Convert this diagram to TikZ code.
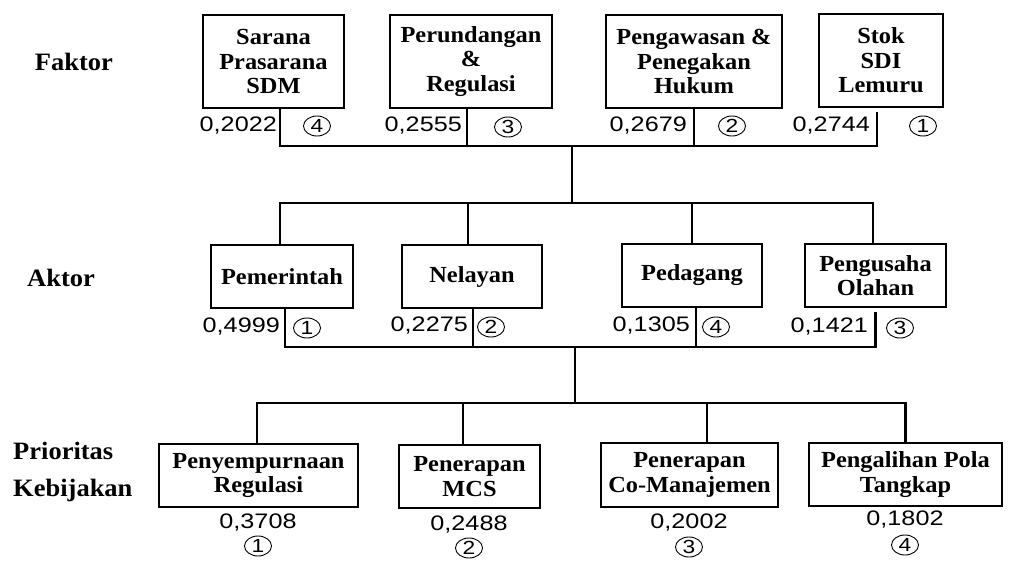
\documentclass[tikz,border=0pt]{standalone}
\usepackage{fontspec}
\usetikzlibrary{shapes.geometric}
\newfontfamily\boxfont[FakeStretch=1.06]{Liberation Serif}
\newfontfamily\valfont[FakeStretch=1.2]{Liberation Sans}

\begin{document}
\begin{tikzpicture}[x=1pt,y=-1pt,
        box/.style={draw, line width=2.4pt, align=center, inner sep=0pt,
            font=\boxfont\bfseries\fontsize{23}{24.5}\selectfont},
        value/.style={inner sep=0pt, font=\valfont\fontsize{21}{22}\selectfont},
        rank/.style={draw, ellipse, line width=0.9pt, inner sep=0pt,
            minimum width=27pt, minimum height=20pt,
            font=\valfont\fontsize{19}{19}\selectfont},
        level/.style={inner sep=0pt, align=left,
            font=\boxfont\bfseries\fontsize{25}{37}\selectfont},
        link/.style={line width=2.4pt}]
    \useasboundingbox (0,0) rectangle (1010,560);
    %Levels
        \node[level] (faktor) at (74,62) {Faktor};
        \node[level] (aktor) at (61,278) {Aktor};
        \node[level, anchor=west] (prioritas) at (13,472) {Prioritas\\Kebijakan};
    %Faktor
        \node[box, minimum width=141pt, minimum height=93pt] (sarana) at (273.5,61.5) {Sarana\\Prasarana\\SDM};
        \node[box, minimum width=162pt, minimum height=93pt] (perundangan) at (471,61.5) {Perundangan\\\&\\Regulasi};
        \node[box, minimum width=176pt, minimum height=93pt] (pengawasan) at (694,61.5) {Pengawasan \&\\Penegakan\\Hukum};
        \node[box, minimum width=124pt, minimum height=93pt] (stok) at (881,60.5) {Stok\\SDI\\Lemuru};
        \node[value, anchor=east] (vsarana) at (277,126) {0,2022};
        \node[rank] (rsarana) at (317,126) {4};
        \node[value, anchor=east] (vperundangan) at (462,126) {0,2555};
        \node[rank] (rperundangan) at (508,127) {3};
        \node[value, anchor=east] (vpengawasan) at (687,126) {0,2679};
        \node[rank] (rpengawasan) at (732,126) {2};
        \node[value, anchor=east] (vstok) at (870,126) {0,2744};
        \node[rank] (rstok) at (923,126) {1};
    %Aktor
        \node[box, minimum width=142pt, minimum height=63pt] (pemerintah) at (282,276.5) {Pemerintah};
        \node[box, minimum width=140pt, minimum height=63pt] (nelayan) at (472,276.5) {Nelayan};
        \node[box, minimum width=140pt, minimum height=63pt] (pedagang) at (692,275.5) {Pedagang};
        \node[box, minimum width=141pt, minimum height=63pt] (pengusaha) at (875.5,275.5) {Pengusaha\\Olahan};
        \node[value, anchor=east] (vpemerintah) at (280,327) {0,4999};
        \node[rank] (rpemerintah) at (307,328) {1};
        \node[value, anchor=east] (vnelayan) at (468,326) {0,2275};
        \node[rank] (rnelayan) at (491,327) {2};
        \node[value, anchor=east] (vpedagang) at (690,326) {0,1305};
        \node[rank] (rpedagang) at (716,327) {4};
        \node[value, anchor=east] (vpengusaha) at (868,327) {0,1421};
        \node[rank] (rpengusaha) at (900,328) {3};
    %Prioritas Kebijakan
        \node[box, minimum width=199pt, minimum height=63pt] (penyempurnaan) at (258.5,475.5) {Penyempurnaan\\Regulasi};
        \node[box, minimum width=141pt, minimum height=63pt] (mcs) at (469.5,476.5) {Penerapan\\MCS};
        \node[box, minimum width=177pt, minimum height=64pt] (comanajemen) at (689.5,475) {Penerapan\\Co-Manajemen};
        \node[box, minimum width=193pt, minimum height=63pt] (pengalihan) at (905.5,474.5) {Pengalihan Pola\\Tangkap};
        \node[value] (vpenyempurnaan) at (258,523) {0,3708};
        \node[rank] (rpenyempurnaan) at (258,546) {1};
        \node[value] (vmcs) at (469,525) {0,2488};
        \node[rank] (rmcs) at (469,548) {2};
        \node[value] (vcomanajemen) at (689,523) {0,2002};
        \node[rank] (rcomanajemen) at (689,547) {3};
        \node[value] (vpengalihan) at (905,520) {0,1802};
        \node[rank] (rpengalihan) at (905,545) {4};
    %Lines
        \coordinate (faktorjoin) at (572,146);
        \coordinate (aktortop) at (572,203);
        \coordinate (aktorjoin) at (575,347);
        \coordinate (kebijakantop) at (575,403);
        \draw[link] ([xshift=6.5pt]sarana.south) |- (faktorjoin);
        \draw[link] ([xshift=-4pt]perundangan.south) |- (faktorjoin);
        \draw[link] (pengawasan.south) |- (faktorjoin);
        \draw[link] ([xshift=-4pt,yshift=-4pt]stok.south) |- (faktorjoin);
        \draw[link] (faktorjoin) -- (aktortop);
        \draw[link] (aktortop) -| ([xshift=-2pt]pemerintah.north);
        \draw[link] (aktortop) -| ([xshift=-4pt]nelayan.north);
        \draw[link] (aktortop) -| (pedagang.north);
        \draw[link] (aktortop) -| ([xshift=-2.5pt]pengusaha.north);
        \draw[link] ([xshift=3pt]pemerintah.south) |- (aktorjoin);
        \draw[link] ([xshift=1pt]nelayan.south) |- (aktorjoin);
        \draw[link] ([xshift=4pt]pedagang.south) |- (aktorjoin);
        \draw[link] ([yshift=-4pt]pengusaha.south) |- (aktorjoin);
        \draw[link] (aktorjoin) -- (kebijakantop);
        \draw[link] (kebijakantop) -| ([xshift=-1.5pt]penyempurnaan.north);
        \draw[link] (kebijakantop) -| ([xshift=-6.5pt]mcs.north);
        \draw[link] (kebijakantop) -| ([xshift=17.5pt]comanajemen.north);
        \draw[link] (kebijakantop) -| (pengalihan.north);
\end{tikzpicture}
\end{document}
